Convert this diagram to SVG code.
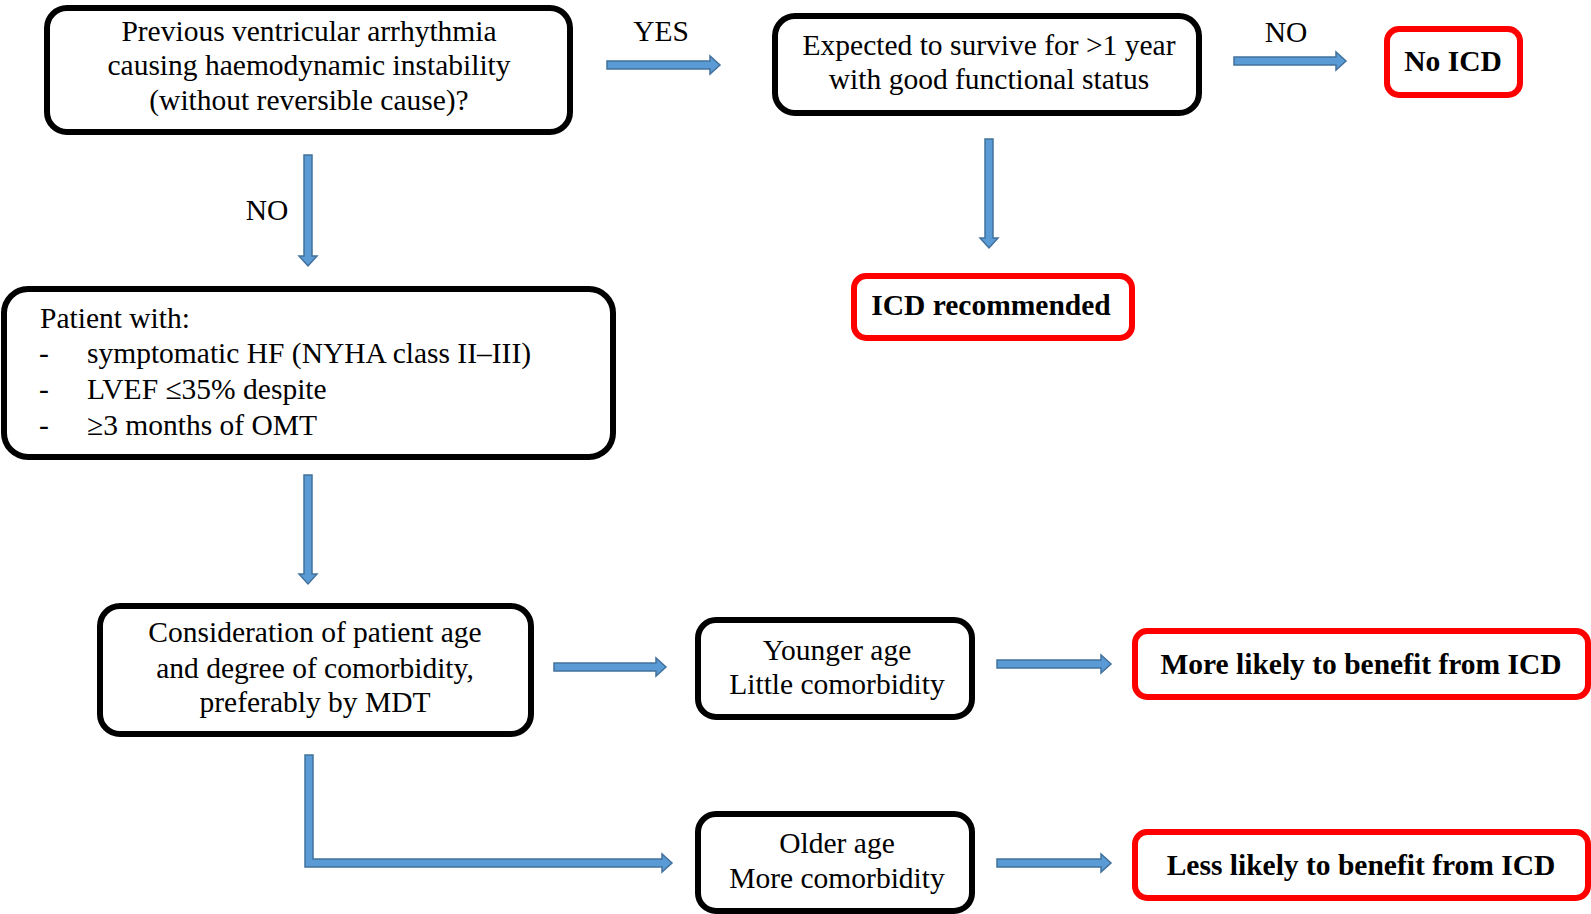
<svg xmlns="http://www.w3.org/2000/svg" width="1591" height="914" viewBox="0 0 1591 914">
<style>
.box{fill:#fff;stroke:#000;stroke-width:6}
.red{fill:#fff;stroke:#f00;stroke-width:6}
.t{font-family:"Liberation Serif","Times New Roman",serif;font-size:29.5px;fill:#000}
.c{text-anchor:middle}
.b{font-weight:bold}
.arr{fill:#5b9bd5;stroke:#41719c;stroke-width:1.5;stroke-linejoin:miter}
</style>
<rect width="1591" height="914" fill="#fff"/>
<g id="connectors">
<polygon class="arr" points="607,61 710,61 710,56 720,65 710,74 710,69 607,69"/>
<polygon class="arr" points="304,155 312,155 312,256 317,256 308,266 299,256 304,256"/>
<polygon class="arr" points="985,139 993,139 993,238 998,238 989,248 980,238 985,238"/>
<polygon class="arr" points="1234,57 1336,57 1336,52 1346,61 1336,70 1336,65 1234,65"/>
<polygon class="arr" points="304,475 312,475 312,574 317,574 308,584 299,574 304,574"/>
<polygon class="arr" points="554,663 656,663 656,658 666,667 656,676 656,671 554,671"/>
<polygon class="arr" points="997,660 1101,660 1101,655 1111,664 1101,673 1101,668 997,668"/>
<polygon class="arr" points="997,859 1101,859 1101,854 1111,863 1101,872 1101,867 997,867"/>
<polygon class="arr" points="305,755 313,755 313,859 662,859 662,854 672,863 662,872 662,867 305,867"/>
<text class="t c" x="661" y="41">YES</text>
<text class="t c" x="267" y="220">NO</text>
<text class="t c" x="1286" y="42">NO</text>
</g>
<g id="n1">
<rect class="box" x="47" y="8" width="523" height="124" rx="20"/>
<text class="t c" x="309" y="41">Previous ventricular arrhythmia</text>
<text class="t c" x="309" y="75">causing haemodynamic instability</text>
<text class="t c" x="309" y="110">(without reversible cause)?</text>
</g>
<g id="n2">
<rect class="box" x="775" y="16" width="424" height="97" rx="20"/>
<text class="t c" x="989" y="55">Expected to survive for &gt;1 year</text>
<text class="t c" x="989" y="89">with good functional status</text>
</g>
<g id="n3">
<rect class="red" x="1387" y="29" width="133" height="66" rx="12"/>
<text class="t c b" x="1453" y="71">No ICD</text>
</g>
<g id="n4">
<rect class="red" x="854" y="276" width="278" height="62" rx="12"/>
<text class="t c b" x="991" y="315">ICD recommended</text>
</g>
<g id="n5">
<rect class="box" x="4" y="289" width="609" height="168" rx="24"/>
<text class="t" x="40" y="328">Patient with:</text>
<text class="t" x="39" y="363">-</text>
<text class="t" x="87" y="363">symptomatic HF (NYHA class II–III)</text>
<text class="t" x="39" y="399">-</text>
<text class="t" x="87" y="399">LVEF ≤35% despite</text>
<text class="t" x="39" y="435">-</text>
<text class="t" x="87" y="435">≥3 months of OMT</text>
</g>
<g id="n6">
<rect class="box" x="100" y="606" width="431" height="128" rx="20"/>
<text class="t c" x="315" y="642">Consideration of patient age</text>
<text class="t c" x="315" y="678">and degree of comorbidity,</text>
<text class="t c" x="315" y="712">preferably by MDT</text>
</g>
<g id="n7">
<rect class="box" x="698" y="620" width="274" height="97" rx="18"/>
<text class="t c" x="837" y="660">Younger age</text>
<text class="t c" x="837" y="694">Little comorbidity</text>
</g>
<g id="n8">
<rect class="box" x="698" y="814" width="274" height="97" rx="18"/>
<text class="t c" x="837" y="853">Older age</text>
<text class="t c" x="837" y="888">More comorbidity</text>
</g>
<g id="n9">
<rect class="red" x="1135" y="631" width="453" height="66" rx="12"/>
<text class="t c b" x="1361" y="674">More likely to benefit from ICD</text>
</g>
<g id="n10">
<rect class="red" x="1135" y="832" width="453" height="66" rx="12"/>
<text class="t c b" x="1361" y="875">Less likely to benefit from ICD</text>
</g>
</svg>
